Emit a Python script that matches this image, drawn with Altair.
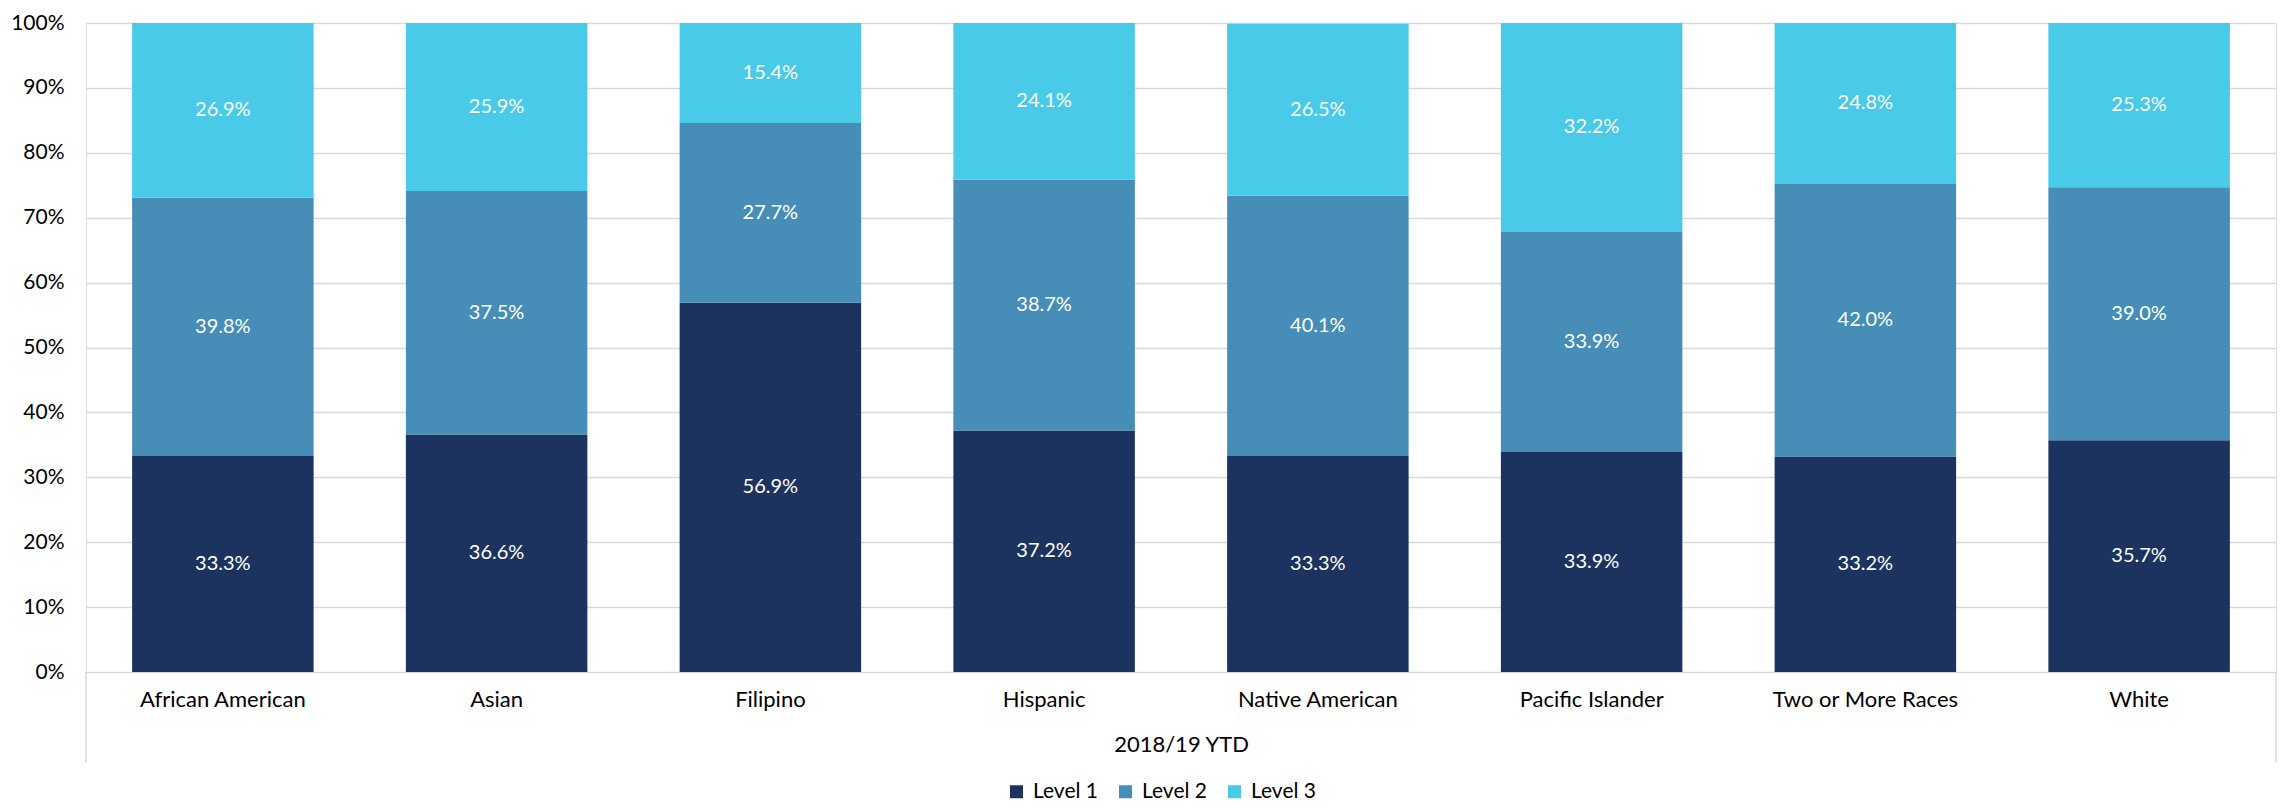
import altair as alt
import pandas as pd

categories = ["African American", "Asian", "Filipino", "Hispanic",
              "Native American", "Pacific Islander", "Two or More Races", "White"]
level1 = [33.3, 36.6, 56.9, 37.2, 33.3, 33.9, 33.2, 35.7]
level2 = [39.8, 37.5, 27.7, 38.7, 40.1, 33.9, 42.0, 39.0]
level3 = [26.9, 25.9, 15.4, 24.1, 26.5, 32.2, 24.8, 25.3]
levels = ["Level 1", "Level 2", "Level 3"]
colors = ["#1c335f", "#468eb8", "#48cae8"]
y_ticks = [0, 10, 20, 30, 40, 50, 60, 70, 80, 90, 100]
group_label = "2018/19 YTD"

rows = []
for i, c in enumerate(categories):
    for j, (lv, vals) in enumerate(zip(levels, [level1, level2, level3])):
        rows.append({"cat": c, "level": lv, "ord": j, "value": vals[i]})
df = pd.DataFrame(rows)

W, H = 2190, 649
FONT = "Lato"

base = alt.Chart(df).transform_stack(
    stack="value", groupby=["cat"], as_=["y0", "y1"],
    sort=[alt.SortField("ord", order="ascending")]
).transform_calculate(
    mid="(datum.y0 + datum.y1) / 2",
    lab="format(datum.value, '.1f') + '%'"
)

xscale = alt.Scale(domain=categories, paddingInner=0.337, paddingOuter=0.1685)
xenc = alt.X("cat:N", sort=categories, scale=xscale,
             axis=alt.Axis(title=group_label, labelAngle=0, labelFontSize=22,
                           labelColor="#000000", labelFont=FONT, ticks=False,
                           tickSize=0, domain=False, labelPadding=17, labelLimit=0,
                           titleFont=FONT, titleFontSize=22, titleFontWeight="normal",
                           titleColor="#000000", titlePadding=24))

yscale = alt.Scale(domain=[0, 100], nice=False, zero=True)

bars = base.mark_bar().encode(
    x=xenc,
    y=alt.Y("y0:Q", scale=yscale,
            axis=alt.Axis(title=None, values=y_ticks, labelExpr="datum.value + '%'",
                          labelFontSize=21, labelColor="#000000", labelFont=FONT,
                          ticks=False, tickSize=0, domain=False, labelPadding=22,
                          gridColor="#d9d9d9", gridWidth=1.5)),
    y2="y1:Q",
    color=alt.Color("level:N", scale=alt.Scale(domain=levels, range=colors),
                    legend=alt.Legend(title=None, orient="none", direction="horizontal",
                                      legendX=920, legendY=758, symbolType="square",
                                      symbolSize=169, symbolStrokeWidth=0,
                                      labelFontSize=21, labelFont=FONT,
                                      labelColor="#000000", labelOffset=6,
                                      columnPadding=16)),
)

texts = base.mark_text(color="white", fontSize=20, font=FONT).encode(
    x=alt.X("cat:N", sort=categories),
    y=alt.Y("mid:Q", scale=yscale),
    text="lab:N",
)

one = alt.Data(values=[{"a": 0}])
box_left = alt.Chart(one).mark_rule(color="#d9d9d9", strokeWidth=1.5).encode(
    x=alt.value(0), y=alt.value(H), y2=alt.value(H + 90))
box_right = alt.Chart(one).mark_rule(color="#d9d9d9", strokeWidth=1.5).encode(
    x=alt.value(W), y=alt.value(H), y2=alt.value(H + 90))

chart = alt.layer(bars, texts, box_left, box_right).properties(
    width=W, height=H,
    autosize=alt.AutoSizeParams(type="none"),
    padding={"left": 78, "top": 15, "right": 1, "bottom": 131},
).configure_view(stroke=None).configure(font=FONT)

chart.save("out.html", embed_options={"renderer": "svg", "actions": False})
